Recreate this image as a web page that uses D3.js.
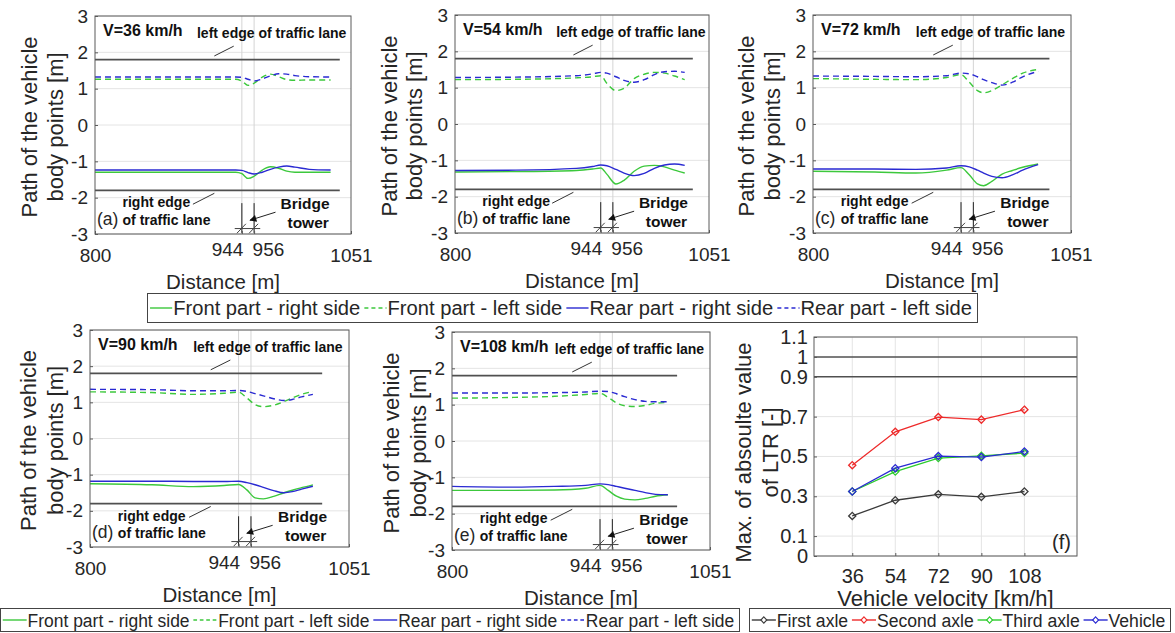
<!DOCTYPE html>
<html>
<head>
<meta charset="utf-8">
<script src="https://cdn.jsdelivr.net/npm/d3@7"></script>
<style>
  body { margin: 0; background: #fff; }
  text { font-family: "Liberation Sans", Arial, sans-serif; }
</style>
</head>
<body>
<script>
// ---- data ----
const speeds = ['36', '54', '72', '90', '108'];
const yTicks = [-3, -2, -1, 0, 1, 2, 3];
const xTicks = [800, 944, 956, 1051];
const towerAt = [944, 956];
const laneEdges = [-1.8, 1.8];
const laneEnd = [1040, 1035, 1030, 1025, 1019];

const dist_a = [800, 860, 920, 938, 944, 950, 956, 964, 972, 980, 988, 996, 1010, 1031];
const frontRight_a = [-1.30, -1.30, -1.30, -1.30, -1.34, -1.47, -1.41, -1.24, -1.15, -1.19, -1.27, -1.30, -1.30, -1.30];
const frontLeft_a = [1.26, 1.26, 1.26, 1.26, 1.21, 1.09, 1.15, 1.32, 1.40, 1.33, 1.25, 1.23, 1.24, 1.24];
const rearRight_a = [-1.24, -1.24, -1.24, -1.24, -1.25, -1.31, -1.35, -1.30, -1.22, -1.16, -1.13, -1.16, -1.22, -1.24];
const rearLeft_a = [1.32, 1.32, 1.32, 1.32, 1.31, 1.26, 1.21, 1.27, 1.35, 1.41, 1.40, 1.36, 1.33, 1.32];

const dist_b = [800, 860, 920, 936, 944, 950, 959, 967, 977, 987, 997, 1007, 1017, 1027];
const frontRight_b = [-1.32, -1.31, -1.28, -1.24, -1.21, -1.38, -1.65, -1.55, -1.30, -1.16, -1.14, -1.18, -1.27, -1.35];
const frontLeft_b = [1.22, 1.23, 1.27, 1.30, 1.33, 1.12, 0.92, 0.98, 1.25, 1.37, 1.42, 1.40, 1.32, 1.22];
const rearRight_b = [-1.28, -1.27, -1.22, -1.17, -1.13, -1.15, -1.25, -1.35, -1.42, -1.36, -1.22, -1.13, -1.10, -1.14];
const rearLeft_b = [1.28, 1.29, 1.33, 1.38, 1.42, 1.40, 1.30, 1.20, 1.15, 1.22, 1.36, 1.44, 1.45, 1.42];

const dist_c = [800, 860, 900, 930, 944, 952, 960, 966, 974, 984, 994, 1004, 1019];
const frontRight_c = [-1.30, -1.32, -1.35, -1.27, -1.20, -1.40, -1.65, -1.70, -1.58, -1.38, -1.28, -1.19, -1.10];
const frontLeft_c = [1.25, 1.23, 1.22, 1.28, 1.36, 1.15, 0.92, 0.86, 0.92, 1.08, 1.25, 1.40, 1.50];
const rearRight_c = [-1.24, -1.24, -1.25, -1.21, -1.15, -1.18, -1.27, -1.35, -1.44, -1.48, -1.40, -1.27, -1.12];
const rearLeft_c = [1.32, 1.31, 1.30, 1.33, 1.40, 1.38, 1.30, 1.22, 1.14, 1.07, 1.15, 1.30, 1.45];

const dist_d = [800, 860, 900, 930, 944, 952, 960, 968, 978, 988, 996, 1005, 1016];
const frontRight_d = [-1.25, -1.28, -1.33, -1.30, -1.27, -1.42, -1.64, -1.67, -1.60, -1.50, -1.43, -1.36, -1.28];
const frontLeft_d = [1.29, 1.27, 1.22, 1.25, 1.28, 1.12, 0.94, 0.88, 0.92, 1.02, 1.12, 1.22, 1.30];
const rearRight_d = [-1.18, -1.18, -1.19, -1.19, -1.18, -1.22, -1.28, -1.35, -1.44, -1.50, -1.47, -1.40, -1.32];
const rearLeft_d = [1.36, 1.35, 1.32, 1.32, 1.33, 1.30, 1.24, 1.18, 1.10, 1.05, 1.08, 1.15, 1.22];

const dist_e = [800, 860, 900, 930, 944, 952, 960, 968, 978, 988, 998, 1010];
const frontRight_e = [-1.36, -1.36, -1.35, -1.30, -1.22, -1.36, -1.52, -1.60, -1.62, -1.58, -1.52, -1.48];
const frontLeft_e = [1.18, 1.20, 1.23, 1.28, 1.31, 1.20, 1.05, 0.97, 0.95, 0.98, 1.04, 1.06];
const rearRight_e = [-1.25, -1.27, -1.25, -1.22, -1.18, -1.20, -1.25, -1.30, -1.36, -1.42, -1.47, -1.48];
const rearLeft_e = [1.32, 1.32, 1.33, 1.35, 1.37, 1.36, 1.30, 1.22, 1.14, 1.09, 1.08, 1.08];

// panel (f): max |LTR| vs velocity
const velocity = [36, 54, 72, 90, 108];
const ltrFirstAxle = [0.201, 0.280, 0.310, 0.297, 0.324];
const ltrSecondAxle = [0.456, 0.624, 0.698, 0.685, 0.735];
const ltrThirdAxle = [0.324, 0.424, 0.492, 0.503, 0.517];
const ltrVehicle = [0.324, 0.441, 0.502, 0.497, 0.525];
const ltrTicks = [0, 0.1, 0.3, 0.5, 0.7, 0.9, 1, 1.1];
const ltrLimits = [0.9, 1];

// ---- colours ----
const green = '#3cc83c';
const blue = '#2a2ad2';
const red = '#ee2a2a';
const black = '#3a3a3a';
const ink = '#262626';
const gridCol = '#e4e4e4';
const laneCol = '#505050';

const svg = d3.select('body').append('svg').attr('width', 1175).attr('height', 633);

// arrow head for the bridge tower pointer
svg.append('defs').append('marker')
  .attr('id', 'arrow').attr('viewBox', '0 0 10 10').attr('refX', 9).attr('refY', 5)
  .attr('markerWidth', 9).attr('markerHeight', 7).attr('markerUnits', 'userSpaceOnUse')
  .attr('orient', 'auto')
  .append('path').attr('d', 'M0,0L10,5L0,10Z').attr('fill', '#111');

const diamond = r => `M0,${-r}L${r},0L0,${r}L${-r},0Z`;

// panel layout: [left, top, right, bottom] and y label offsets
const panels = [
  { letter: 'a', box: [95, 16, 351, 234], lab: [66, 40], dist: dist_a, fr: frontRight_a, fl: frontLeft_a, rr: rearRight_a, rl: rearLeft_a },
  { letter: 'b', box: [455, 15, 709, 233], lab: [66, 41], dist: dist_b, fr: frontRight_b, fl: frontLeft_b, rr: rearRight_b, rl: rearLeft_b },
  { letter: 'c', box: [813, 15, 1071, 233], lab: [67, 41], dist: dist_c, fr: frontRight_c, fl: frontLeft_c, rr: rearRight_c, rl: rearLeft_c },
  { letter: 'd', box: [90, 330, 349, 547], lab: [62, 35], dist: dist_d, fr: frontRight_d, fl: frontLeft_d, rr: rearRight_d, rl: rearLeft_d },
  { letter: 'e', box: [452, 332, 710, 550], lab: [61, 34], dist: dist_e, fr: frontRight_e, fl: frontLeft_e, rr: rearRight_e, rl: rearLeft_e }
];

function yLabel(g, cx, cy, lines, offs, size) {
  lines.forEach((s, i) => {
    g.append('text')
      .attr('transform', `translate(${cx - offs[i]},${cy}) rotate(-90)`)
      .attr('text-anchor', 'middle').attr('dy', '0.35em')
      .attr('font-size', size).attr('fill', ink).text(s);
  });
}

function drawPanel(p, i) {
  const [L, T, R, B] = p.box;
  const x = d3.scaleLinear().domain([800, 1051]).range([L, R]);
  const y = d3.scaleLinear().domain([-3, 3]).range([B, T]);
  const g = svg.append('g');

  // grid
  g.selectAll(null).data(yTicks).join('line')
    .attr('x1', L).attr('x2', R).attr('y1', d => y(d)).attr('y2', d => y(d))
    .attr('stroke', gridCol);
  g.selectAll(null).data(towerAt).join('line')
    .attr('x1', d => x(d)).attr('x2', d => x(d)).attr('y1', T).attr('y2', B)
    .attr('stroke', '#d4d4d4');

  // lane edges
  g.selectAll(null).data(laneEdges).join('line')
    .attr('x1', x(800)).attr('x2', x(laneEnd[i]))
    .attr('y1', d => y(d)).attr('y2', d => y(d))
    .attr('stroke', laneCol).attr('stroke-width', 1.6);

  // vehicle paths
  const line = d3.line().x((d, k) => x(p.dist[k])).y(d => y(d)).curve(d3.curveMonotoneX);
  const series = [
    { v: p.fl, c: green, dash: '6,4' },
    { v: p.rl, c: blue, dash: '6,4' },
    { v: p.fr, c: green, dash: null },
    { v: p.rr, c: blue, dash: null }
  ];
  series.forEach(s => {
    g.append('path').attr('d', line(s.v)).attr('fill', 'none')
      .attr('stroke', s.c).attr('stroke-width', 1.4).attr('stroke-dasharray', s.dash);
  });

  // bridge tower sketch
  g.selectAll(null).data(towerAt).join('line')
    .attr('x1', d => x(d)).attr('x2', d => x(d)).attr('y1', y(-2.15)).attr('y2', y(-2.97))
    .attr('stroke', '#222').attr('stroke-width', 1);
  g.append('line').attr('x1', x(937)).attr('x2', x(962)).attr('y1', y(-2.85)).attr('y2', y(-2.85))
    .attr('stroke', '#444');
  g.selectAll(null).data(towerAt).join('line')
    .attr('x1', d => x(d) - 5).attr('x2', d => x(d) + 4).attr('y1', y(-2.98)).attr('y2', y(-2.72))
    .attr('stroke', '#444');
  g.append('line').attr('x1', x(977)).attr('y1', y(-2.4)).attr('x2', x(952)).attr('y2', y(-2.62))
    .attr('stroke', '#222').attr('marker-end', 'url(#arrow)');

  // box
  g.append('rect').attr('x', L).attr('y', T).attr('width', R - L).attr('height', B - T)
    .attr('fill', 'none').attr('stroke', '#5a5a5a');

  // axes
  const ya = g.append('g').attr('transform', `translate(${L},0)`)
    .call(d3.axisLeft(y).tickValues(yTicks).tickSize(-3).tickPadding(7).tickFormat(d => String(d)));
  ya.select('.domain').remove();
  ya.attr('font-size', 19).attr('font-family', null);
  ya.selectAll('line').attr('stroke', '#5a5a5a');
  ya.selectAll('text').attr('fill', ink);

  const xa = g.append('g').attr('transform', `translate(0,${B})`)
    .call(d3.axisBottom(x).tickValues(xTicks).tickSize(-3).tickPadding(15).tickFormat(d => String(d)));
  xa.select('.domain').remove();
  xa.attr('font-size', 19).attr('font-family', null);
  xa.selectAll('line').attr('stroke', '#5a5a5a');
  xa.selectAll('text').attr('fill', ink)
    .attr('text-anchor', d => d === 944 ? 'end' : d === 956 ? 'start' : 'middle')
    .attr('x', d => d === 944 ? 1 : d === 956 ? -2 : 0)
    .attr('y', d => d === 944 || d === 956 ? 9 : 15);

  // axis titles
  g.append('text').attr('x', (L + R) / 2).attr('y', B + 55).attr('text-anchor', 'middle')
    .attr('font-size', 20.5).attr('fill', ink).text('Distance [m]');
  yLabel(g, L, (T + B) / 2 + 2, ['Path of the vehicle', 'body points [m]'], p.lab, 22);

  // annotations
  g.append('text').attr('x', L + 8).attr('y', y(2.45)).attr('font-size', 16).attr('font-weight', 'bold')
    .attr('fill', '#111').text('V=' + speeds[i] + ' km/h');
  g.append('text').attr('x', x(900)).attr('y', y(2.4)).attr('font-size', 14).attr('font-weight', 'bold')
    .attr('fill', '#111').text('left edge of traffic lane');
  g.append('line').attr('x1', x(917)).attr('y1', y(1.9)).attr('x2', x(936)).attr('y2', y(2.17))
    .attr('stroke', '#333');
  g.append('text').attr('x', x(827)).attr('y', y(-2.27)).attr('font-size', 14).attr('font-weight', 'bold')
    .attr('fill', '#111').text('right edge');
  g.append('text').attr('x', x(827)).attr('y', y(-2.74)).attr('font-size', 14).attr('font-weight', 'bold')
    .attr('fill', '#111').text('of traffic lane');
  g.append('line').attr('x1', x(896)).attr('y1', y(-2.18)).attr('x2', x(917)).attr('y2', y(-1.88))
    .attr('stroke', '#333');
  g.append('text').attr('x', L + 2).attr('y', y(-2.74)).attr('font-size', 17.5).attr('fill', ink)
    .text('(' + p.letter + ')');
  g.append('text').attr('x', x(1006)).attr('y', y(-2.32)).attr('text-anchor', 'middle')
    .attr('font-size', 15.5).attr('font-weight', 'bold').attr('fill', '#111').text('Bridge');
  g.append('text').attr('x', x(1009)).attr('y', y(-2.84)).attr('text-anchor', 'middle')
    .attr('font-size', 15.5).attr('font-weight', 'bold').attr('fill', '#111').text('tower');
}

panels.forEach(drawPanel);

// ---- panel (f) ----
(function () {
  const L = 814, T = 337, R = 1077, B = 556;
  const x = d3.scaleLinear().domain([20, 130]).range([L, R]);
  const y = d3.scaleLinear().domain([0, 1.1]).range([B, T]);
  const g = svg.append('g');

  g.selectAll(null).data(ltrTicks.filter(d => !ltrLimits.includes(d))).join('line')
    .attr('x1', L).attr('x2', R).attr('y1', d => y(d)).attr('y2', d => y(d)).attr('stroke', gridCol);
  g.selectAll(null).data(velocity).join('line')
    .attr('x1', d => x(d)).attr('x2', d => x(d)).attr('y1', T).attr('y2', B).attr('stroke', gridCol);
  g.selectAll(null).data(ltrLimits).join('line')
    .attr('x1', L).attr('x2', R).attr('y1', d => y(d)).attr('y2', d => y(d))
    .attr('stroke', laneCol).attr('stroke-width', 1.5);

  const series = [
    { v: ltrFirstAxle, c: black },
    { v: ltrSecondAxle, c: red },
    { v: ltrThirdAxle, c: '#2ccc2c' },
    { v: ltrVehicle, c: blue }
  ];
  const line = d3.line().x((d, k) => x(velocity[k])).y(d => y(d));
  series.forEach(s => {
    g.append('path').attr('d', line(s.v)).attr('fill', 'none').attr('stroke', s.c).attr('stroke-width', 1.3);
    g.selectAll(null).data(s.v).join('path')
      .attr('d', diamond(3.6))
      .attr('transform', (d, k) => `translate(${x(velocity[k])},${y(d)})`)
      .attr('fill', 'none').attr('stroke', s.c).attr('stroke-width', 1.3);
  });

  g.append('rect').attr('x', L).attr('y', T).attr('width', R - L).attr('height', B - T)
    .attr('fill', 'none').attr('stroke', '#5a5a5a');

  const ya = g.append('g').attr('transform', `translate(${L},0)`)
    .call(d3.axisLeft(y).tickValues(ltrTicks).tickSize(-3).tickPadding(6).tickFormat(d => String(d)));
  ya.select('.domain').remove();
  ya.attr('font-size', 20).attr('font-family', null);
  ya.selectAll('line').attr('stroke', '#5a5a5a');
  ya.selectAll('text').attr('fill', ink);

  const xa = g.append('g').attr('transform', `translate(0,${B})`)
    .call(d3.axisBottom(x).tickValues(velocity).tickSize(-3).tickPadding(13).tickFormat(d => String(d)));
  xa.select('.domain').remove();
  xa.attr('font-size', 20).attr('font-family', null);
  xa.selectAll('line').attr('stroke', '#5a5a5a');
  xa.selectAll('text').attr('fill', ink);

  g.append('text').attr('x', (L + R) / 2).attr('y', B + 50).attr('text-anchor', 'middle')
    .attr('font-size', 22).attr('fill', ink).text('Vehicle velocity [km/h]');
  yLabel(g, L, (T + B) / 2 + 6, ['Max. of absoulte value', 'of LTR [-]'], [71, 44], 22);
  g.append('text').attr('x', R - 6).attr('y', B - 7).attr('text-anchor', 'end')
    .attr('font-size', 20).attr('fill', ink).text('(f)');
})();

// ---- legends ----
const pathItems = [
  { label: 'Front part - right side', color: green, dash: null },
  { label: 'Front part - left side', color: green, dash: '4,3' },
  { label: 'Rear part - right side', color: blue, dash: null },
  { label: 'Rear part - left side', color: blue, dash: '4,3' }
];
const ltrItems = [
  { label: 'First axle', color: black, marker: true },
  { label: 'Second axle', color: red, marker: true },
  { label: 'Third axle', color: '#2ccc2c', marker: true },
  { label: 'Vehicle', color: blue, marker: true }
];

function legend(x0, y0, w, h, items, size, sample) {
  const g = svg.append('g').attr('transform', `translate(${x0},${y0})`);
  g.append('rect').attr('x', 0.5).attr('y', 0.5).attr('width', w).attr('height', h)
    .attr('fill', '#fff').attr('stroke', '#444');
  const inner = g.append('g');
  let cx = 3;
  items.forEach(it => {
    inner.append('line').attr('x1', cx).attr('x2', cx + sample).attr('y1', h / 2 + 0.5).attr('y2', h / 2 + 0.5)
      .attr('stroke', it.color).attr('stroke-width', 1.4).attr('stroke-dasharray', it.dash);
    if (it.marker) {
      inner.append('path').attr('d', diamond(3.2))
        .attr('transform', `translate(${cx + sample / 2},${h / 2 + 0.5})`)
        .attr('fill', '#fff').attr('stroke', it.color).attr('stroke-width', 1.2);
    }
    cx += sample + 1;
    const t = inner.append('text').attr('x', cx).attr('y', h / 2 + 0.5).attr('dy', '0.36em')
      .attr('font-size', size).attr('fill', ink).text(it.label);
    cx += t.node().getComputedTextLength() + 4;
  });
  inner.attr('transform', `scale(${w / (cx + 1)},1)`);
}

legend(147, 293, 830, 29, pathItems, 20, 22);
legend(0, 608, 739, 23, pathItems, 19, 26);
legend(749, 608, 421, 23, ltrItems, 19, 26);
</script>
</body>
</html>
